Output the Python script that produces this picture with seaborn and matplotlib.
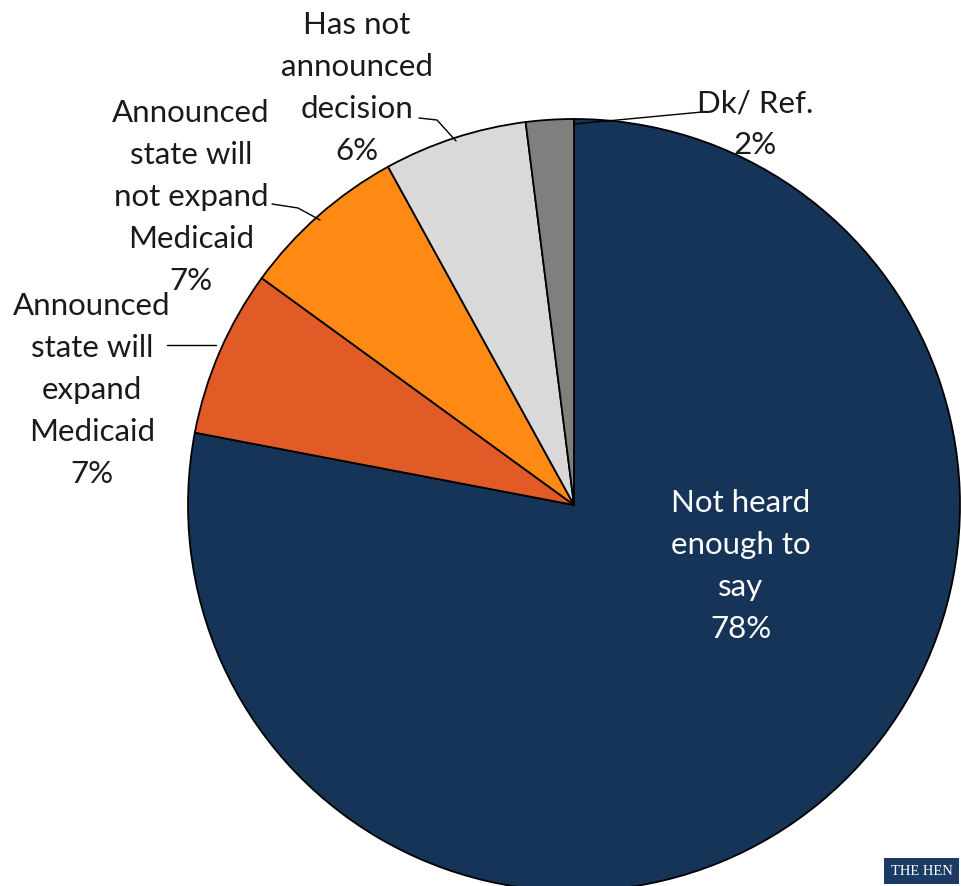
import matplotlib
matplotlib.use("Agg")
import matplotlib.pyplot as plt
import seaborn as sns

# data
labels = ["Not heard\nenough to\nsay", "Announced\nstate will\nexpand\nMedicaid",
          "Announced\nstate will\nnot expand\nMedicaid", "Has not\nannounced\ndecision",
          "Dk/ Ref."]
shares = [78, 7, 7, 6, 2]
colors = ["#163458", "#e05b26", "#fe8a14", "#d9d9d9", "#7f7f7f"]

sns.set_theme(style="white")
plt.rcParams['font.family'] = ['Lato', 'DejaVu Sans']

fig = plt.figure(figsize=(9.61, 8.87), dpi=100)
ax = fig.add_axes([0, 0, 1, 1])

# pixel-style coords, y axis pointing down -> counterclock in data = clockwise on screen
ax.pie(shares, colors=colors, startangle=-90, counterclock=True,
       center=(574, 506), radius=386,
       wedgeprops=dict(edgecolor="black", linewidth=1.3))
ax.set_xlim(0, 961)
ax.set_ylim(887, 0)
ax.set_aspect("equal")
ax.axis("off")

fs = 22.5
def lab(i, x, y, color="#1a1a1a"):
    ax.text(x, y, f"{labels[i]}\n{shares[i]}%", ha="center", va="center",
            fontsize=fs, color=color, linespacing=1.6)

lab(0, 741, 566, color="white")
lab(1, 92, 390)
lab(2, 191, 197)
lab(3, 357, 88)
lab(4, 755, 124)

# leader lines
ax.plot([167, 216], [346, 346], color="black", lw=1)
ax.plot([272, 298, 320], [205, 209, 221], color="black", lw=1)
ax.plot([419, 437, 456], [119, 121, 142], color="black", lw=1)
ax.plot([575, 702], [125, 113], color="black", lw=1)

# logo
ax.text(891, 872, "THE HEN", ha="left", va="center", fontsize=10.5,
        family="Liberation Serif", color="white",
        bbox=dict(boxstyle="square,pad=0.45", fc="#1c3a66", ec="none"))

fig.savefig("out.png", dpi=100)
